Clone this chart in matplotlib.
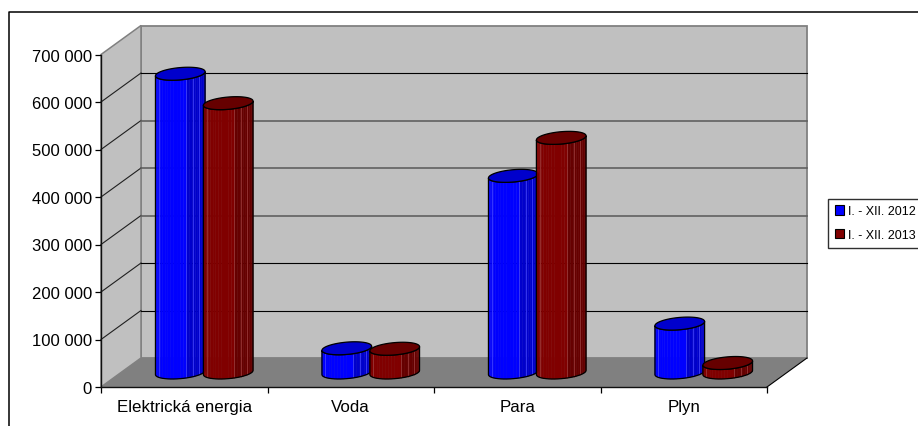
# Recreate the 3D cylinder column chart (I. - XII. 2012 / 2013)
import numpy as np
import matplotlib
matplotlib.use("Agg")
import matplotlib.pyplot as plt
from matplotlib.lines import Line2D
from matplotlib.patches import Patch, Polygon

plt.rcParams['font.family'] = ['Liberation Sans', 'DejaVu Sans']

categories = ["Elektrická energia", "Voda", "Para", "Plyn"]
series_names = ["I. - XII. 2012", "I. - XII. 2013"]
values_2012 = [629000, 51000, 414000, 103000]
values_2013 = [567000, 50000, 494000, 20000]
y_ticks = [0, 100000, 200000, 300000, 400000, 500000, 600000, 700000]
y_labels = ["0", "100 000", "200 000", "300 000", "400 000", "500 000", "600 000", "700 000"]

W, H = 918, 427
X0, X1, Y0, Y1 = 101, 767, 388, 55.5   # front plane in pixels
VMAX = 700000
XPX = 4 / (X1 - X0)                    # categories per pixel
YPX = VMAX / (Y0 - Y1)                 # value per pixel
DX = 40 * XPX                          # depth offset of the back wall
DY = 29 * YPX

fig = plt.figure(figsize=(W / 100, H / 100), dpi=100, facecolor='white')
ax = fig.add_axes([X0 / W, 1 - Y0 / H, (X1 - X0) / W, (Y0 - Y1) / H])
ax.set_xlim(0, 4)
ax.set_ylim(0, VMAX)
ax.patch.set_visible(False)

# outer frame, runs off the right and the bottom
fig.add_artist(Line2D([9 / W, 9 / W, 1], [0, 1 - 12.5 / H, 1 - 12.5 / H],
                      color='black', lw=1.1, transform=fig.transFigure))

# walls and floor
ax.add_patch(Polygon([(0, 0), (DX, DY), (4 + DX, DY), (4, 0)], fc='#808080', ec='none',
                     zorder=1.1, clip_on=False))
ax.add_patch(Polygon([(DX, DY), (4 + DX, DY), (4 + DX, VMAX + DY), (DX, VMAX + DY)],
                     fc='#c0c0c0', ec='#808080', lw=1.3, zorder=1, clip_on=False))
ax.add_patch(Polygon([(0, 0), (DX, DY), (DX, VMAX + DY), (0, VMAX)],
                     fc='#c0c0c0', ec='#808080', lw=1.1, zorder=1, clip_on=False))
ax.plot([4, 4 + DX], [0, DY], color='black', lw=0.8, zorder=2, clip_on=False)

# gridlines, some come out grey in the reference
grid_colors = {100000: 'black', 200000: 'black', 300000: '#606060', 400000: '#606060',
               500000: '#606060', 600000: 'black'}
for v, c in grid_colors.items():
    ax.plot([0, DX], [v, v + DY], color='#202020', lw=0.8, zorder=2, clip_on=False)
    ax.plot([DX, 4 + DX], [v + DY, v + DY], color=c, lw=0.8 if c == 'black' else 1.2,
            zorder=2, clip_on=False)

# cylinders
RX = 23.5 * XPX
RZX = 8 * XPX
RZY = 6.5 * YPX
T0 = np.arctan2(8, 23.5)


def ring(cx, cy, t):
    return cx + RX * np.cos(t) + RZX * np.sin(t), cy + RZY * np.sin(t)


def cylinder(cat, value, base, dark, light, z):
    cx = cat + DX / 2
    cy = DY / 2
    t = np.linspace(T0 + np.pi, T0 + 2 * np.pi, 25)
    xs, ys = ring(cx, cy, t)
    for i in range(len(t) - 1):
        frac = (xs[i] - xs[0]) / (xs[-1] - xs[0])
        col = base if frac < 0.62 else dark
        ax.add_patch(Polygon([(xs[i], ys[i]), (xs[i + 1], ys[i + 1]),
                              (xs[i + 1], ys[i + 1] + value), (xs[i], ys[i] + value)],
                             fc=col, ec=col, lw=0.3, zorder=z, clip_on=False))
    # faint facet lines
    for frac in [0.07, 0.62, 0.76, 0.88]:
        lx = xs[0] + frac * (xs[-1] - xs[0])
        ly = np.interp(lx, xs, ys)
        ax.plot([lx, lx], [ly, ly + value], color=light, lw=0.5, zorder=z + 0.1, clip_on=False)
    # silhouette of the body
    outline = list(zip(xs, ys)) + list(zip(xs[::-1], ys[::-1] + value))
    ax.add_patch(Polygon(outline, fc='none', ec='black', lw=0.9, zorder=z + 0.2, clip_on=False))
    # top
    tt = np.linspace(0, 2 * np.pi, 80)
    tx, ty = ring(cx, cy + value, tt)
    ax.add_patch(Polygon(list(zip(tx, ty)), fc=dark, ec='black', lw=0.9, zorder=z + 0.3, clip_on=False))


for i in range(len(categories)):
    cylinder(i + 0.356, values_2012[i], '#0000ff', '#0000cc', '#4a4aff', 3 + i)
    cylinder(i + 0.644, values_2013[i], '#800000', '#660000', '#a04040', 3.5 + i)

# axes
for s in ['top', 'right']:
    ax.spines[s].set_visible(False)
for s in ['left', 'bottom']:
    ax.spines[s].set_linewidth(1.0)
    ax.spines[s].set_color('#101010')
    ax.spines[s].set_zorder(20)
ax.set_yticks(y_ticks, y_labels)
ax.set_xticks(range(5), [''] * 5)
ax.set_xticks(np.arange(4) + 0.5, categories, minor=True)
ax.tick_params(axis='y', length=4, width=0.9, pad=2.5, labelsize=12, colors='black')
ax.tick_params(axis='x', which='major', length=4, width=0.9)
ax.tick_params(axis='x', which='minor', length=0, pad=9, labelsize=12.2)

# legend, its frame runs off the right edge
handles = [Patch(fc='#0000ff', ec='black', lw=0.8), Patch(fc='#800000', ec='black', lw=0.8)]
leg = ax.legend(handles, series_names, loc='upper left', bbox_to_anchor=(828 / W, 1 - 199.5 / H),
                bbox_transform=fig.transFigure, borderaxespad=0, fontsize=9.0, fancybox=False,
                framealpha=1, edgecolor='#303030', handlelength=0.75, handleheight=0.75,
                handletextpad=0.3, labelspacing=0.95, borderpad=0.55)
leg.get_frame().set_linewidth(1.0)

fig.savefig('out.png', dpi=100, facecolor='white')
